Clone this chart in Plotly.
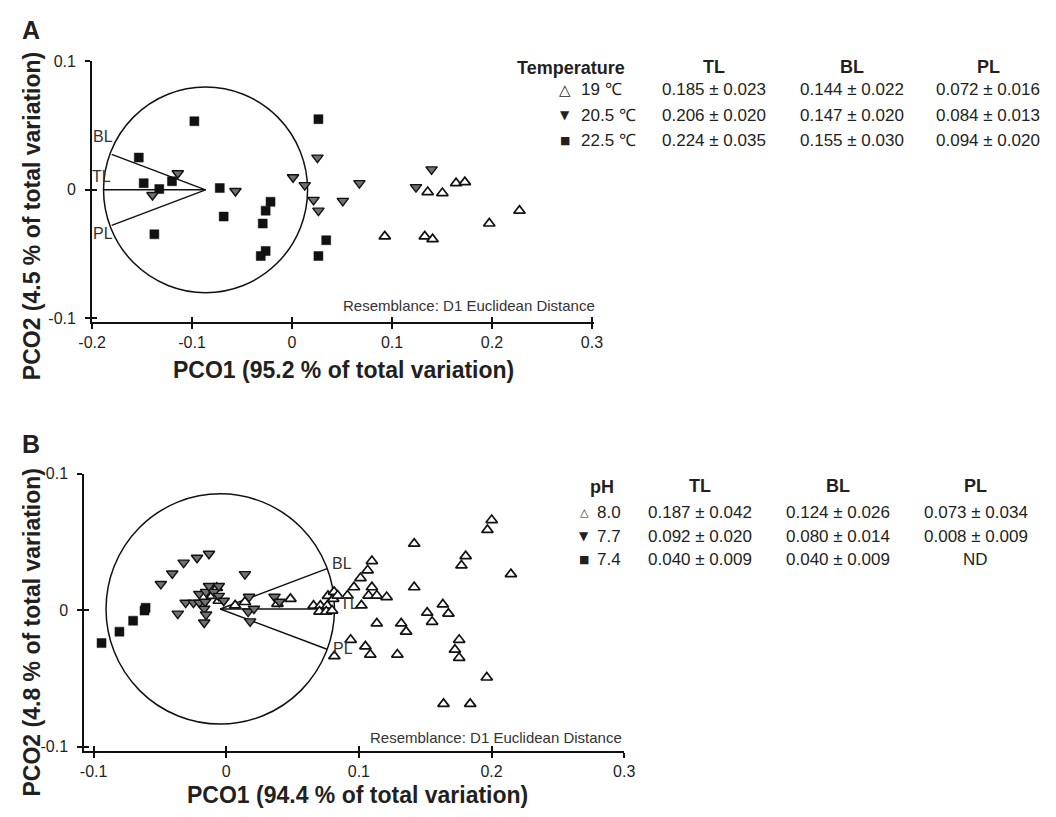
import plotly.graph_objects as go

# ---------------- DATA ----------------
# Panel A (temperature)
a_19_x = [0.1357, 0.1504, 0.1641, 0.1729, 0.0928, 0.1328, 0.1406, 0.1973, 0.2275]
a_19_y = [-0.0017, -0.0025, 0.0052, 0.0060, -0.0362, -0.0362, -0.0384, -0.0262, -0.0162]
a_205_x = [-0.1143, -0.1396, -0.0566, 0.0010, 0.0127, 0.0254, 0.0215, 0.0264, 0.0508, 0.0674, 0.1240, 0.1396]
a_205_y = [0.0129, -0.0040, -0.0009, 0.0098, 0.0037, 0.0251, -0.0078, -0.0162, -0.0086, 0.0052, 0.0021, 0.0159]
a_225_x = [-0.0977, -0.1533, -0.1201, -0.1484, -0.1328, -0.1377, -0.0723, -0.0684, -0.0215, -0.0264,
           -0.0293, -0.0264, -0.0313, 0.0264, 0.0342, 0.0264]
a_225_y = [0.0534, 0.0251, 0.0067, 0.0052, 0.0006, -0.0346, 0.0014, -0.0208, -0.0093, -0.0162,
           -0.0262, -0.0476, -0.0515, 0.0550, -0.0392, -0.0515]

# Panel B (pH)
b_80_x = [0.0067, 0.0141, 0.0386, 0.0484, 0.0658, 0.0710, 0.0762, 0.0703, 0.0754, 0.0798,
          0.0767, 0.0806, 0.0813, 0.0840, 0.0914, 0.0963, 0.1012, 0.1066, 0.1098, 0.1073,
          0.1098, 0.1135, 0.1209, 0.1019, 0.1417, 0.1417, 0.1135, 0.1319, 0.1356, 0.1515,
          0.1552, 0.1633, 0.1675, 0.0815, 0.0938, 0.1049, 0.1086, 0.1290, 0.1756, 0.1724,
          0.1756, 0.2001, 0.1969, 0.1805, 0.1773, 0.2146, 0.1964, 0.1638, 0.1839,
          -0.0071, -0.0108, -0.0056]
b_80_y = [0.0036, 0.0061, 0.0048, 0.0084, 0.0034, 0.0034, 0.0034, -0.0009, -0.0009, -0.0002,
          0.0106, 0.0084, 0.0135, 0.0108, 0.0108, 0.0169, 0.0236, 0.0293, 0.0361, 0.0108,
          0.0169, 0.0108, 0.0097, 0.0036, 0.0488, 0.0169, -0.0096, -0.0096, -0.0156, -0.0017,
          -0.0084, 0.0043, -0.0024, -0.0336, -0.0216, -0.0264, -0.0324, -0.0324, -0.0216, -0.0288,
          -0.0348, 0.0661, 0.0589, 0.0397, 0.0329, 0.0265, -0.0492, -0.0685, -0.0685,
          0.0164, 0.0106, 0.0070]
b_77_x = [-0.0493, -0.0407, -0.0321, -0.0220, -0.0130, 0.0141, -0.0365, -0.0306, -0.0247, -0.0203,
          -0.0159, -0.0203, -0.0152, -0.0093, -0.0056, -0.0019, -0.0130, -0.0056, -0.0166, -0.0152,
          -0.0166, 0.0172, 0.0165, 0.0209, 0.0180, 0.0364, 0.0401]
b_77_y = [0.0193, 0.0270, 0.0349, 0.0385, 0.0414, 0.0265, -0.0024, 0.0056, 0.0056, 0.0056,
          0.0063, 0.0120, 0.0135, 0.0135, 0.0106, 0.0070, 0.0178, 0.0178, 0.0012, -0.0031,
          -0.0089, 0.0099, -0.0009, 0.0012, -0.0081, 0.0099, 0.0063]
b_74_x = [-0.0940, -0.0805, -0.0702, -0.0608, -0.0616]
b_74_y = [-0.0240, -0.0156, -0.0076, 0.0019, -0.0002]

# Vector overlays (correlations with PCO axes)
vec_labels = ["TL", "BL", "PL"]
a_vec_x = [-1.0, -0.92, -0.92]
a_vec_y = [0.0, 0.345, -0.345]
b_vec_x = [1.0, 0.935, 0.935]
b_vec_y = [0.0, 0.35, -0.35]

# Tables
a_groups = ["19 ℃", "20.5 ℃", "22.5 ℃"]
a_TL = ["0.185 ± 0.023", "0.206 ± 0.020", "0.224 ± 0.035"]
a_BL = ["0.144 ± 0.022", "0.147 ± 0.020", "0.155 ± 0.030"]
a_PL = ["0.072 ± 0.016", "0.084 ± 0.013", "0.094 ± 0.020"]
b_groups = ["8.0", "7.7", "7.4"]
b_TL = ["0.187 ± 0.042", "0.092 ± 0.020", "0.040 ± 0.009"]
b_BL = ["0.124 ± 0.026", "0.080 ± 0.014", "0.040 ± 0.009"]
b_PL = ["0.073 ± 0.034", "0.008 ± 0.009", "ND"]
symbols_txt = ["△", "▼", "■"]

# ---------------- LAYOUT GEOMETRY ----------------
W, H = 1056, 817
FONT = "Liberation Sans, Arial, sans-serif"
TXT = "#231f20"

# panel A plot box (px)
A_X0, A_X1, A_Y0, A_Y1 = 80, 594, 54.2, 319.3
A_XR, A_YR = [-0.2, 0.302], [-0.103, 0.1]
# panel B plot box (px)
B_X0, B_X1, B_Y0, B_Y1 = 72, 625, 473.3, 755
B_XR, B_YR = [-0.107, 0.3], [-0.103, 0.1]


def dom_x(x0, x1):
    return [x0 / W, x1 / W]


def dom_y(y0, y1):
    return [1 - y1 / H, 1 - y0 / H]


fig = go.Figure()

mk_up = dict(symbol="triangle-up", size=10, color="white", line=dict(color="#111", width=1.7))
mk_dn = dict(symbol="triangle-down", size=10, color="#707070", line=dict(color="#111", width=1.4))
mk_sq = dict(symbol="square", size=9, color="#111", line=dict(color="#111", width=0.5))


def circle_and_vectors(xa, ya, cx, cy, rpx, box, xr, yr, vx, vy, lab_shift):
    x0, x1, y0, y1 = box
    rx = rpx * (xr[1] - xr[0]) / (x1 - x0)
    ry = rpx * (yr[1] - yr[0]) / (y1 - y0)
    fig.add_shape(type="circle", xref=xa, yref=ya, x0=cx - rx, x1=cx + rx, y0=cy - ry, y1=cy + ry,
                  line=dict(color="#111", width=1.5), layer="below")
    for i, lab in enumerate(vec_labels):
        ex, ey = cx + vx[i] * rx, cy + vy[i] * ry
        fig.add_trace(go.Scatter(x=[cx, ex], y=[cy, ey], mode="lines", xaxis=xa, yaxis=ya,
                                 line=dict(color="#111", width=1.5), showlegend=False, hoverinfo="skip"))
        fig.add_annotation(x=ex, y=ey, xref=xa, yref=ya, text=lab, showarrow=False,
                           xshift=lab_shift[i][0], yshift=lab_shift[i][1],
                           font=dict(family=FONT, size=16, color="#333"))


# Panel A
circle_and_vectors("x", "y", -0.0865, 0.0, 104.5, (A_X0, A_X1, A_Y0, A_Y1), A_XR, A_YR,
                   a_vec_x, a_vec_y, [(-2, 13), (-9, 18), (-9, -8)])
fig.add_trace(go.Scatter(x=a_225_x, y=a_225_y, mode="markers", marker=mk_sq, xaxis="x", yaxis="y", showlegend=False))
fig.add_trace(go.Scatter(x=a_205_x, y=a_205_y, mode="markers", marker=mk_dn, xaxis="x", yaxis="y", showlegend=False))
fig.add_trace(go.Scatter(x=a_19_x, y=a_19_y, mode="markers", marker=mk_up, xaxis="x", yaxis="y", showlegend=False))

# Panel B
circle_and_vectors("x2", "y2", -0.0045, 0.001, 117, (B_X0, B_X1, B_Y0, B_Y1), B_XR, B_YR,
                   b_vec_x, b_vec_y, [(15, 5), (15, 5), (16, 1)])
fig.add_trace(go.Scatter(x=b_74_x, y=b_74_y, mode="markers", marker=mk_sq, xaxis="x2", yaxis="y2", showlegend=False))
fig.add_trace(go.Scatter(x=b_80_x, y=b_80_y, mode="markers", marker=mk_up, xaxis="x2", yaxis="y2", showlegend=False))
fig.add_trace(go.Scatter(x=b_77_x, y=b_77_y, mode="markers", marker=mk_dn, xaxis="x2", yaxis="y2", showlegend=False))

# dummy traces for overlay (inner tick) axes
fig.add_trace(go.Scatter(x=[None], y=[None], xaxis="x3", yaxis="y3", showlegend=False, hoverinfo="skip"))
fig.add_trace(go.Scatter(x=[None], y=[None], xaxis="x4", yaxis="y4", showlegend=False, hoverinfo="skip"))

ax_common = dict(showline=True, linecolor="#111", linewidth=2, ticks="outside", ticklen=5, tickwidth=2,
                 tickcolor="#111", showgrid=False, zeroline=False,
                 tickfont=dict(family=FONT, size=16, color=TXT))
inner = dict(showline=False, ticks="inside", ticklen=5, tickwidth=2, tickcolor="#111", showgrid=False,
             zeroline=False, showticklabels=False)

a_xt = [-0.2, -0.1, 0, 0.1, 0.2, 0.3]
b_xt = [-0.1, 0, 0.1, 0.2, 0.3]
yt = [-0.1, 0, 0.1]
a_xl = ["-0.2", "-0.1", "0", "0.1", "0.2", "0.3"]
b_xl = ["-0.1", "0", "0.1", "0.2", "0.3"]
yl = ["-0.1", "0", "0.1"]

fig.update_layout(
    width=W, height=H, margin=dict(l=0, r=0, t=0, b=0),
    paper_bgcolor="white", plot_bgcolor="white", showlegend=False,
    xaxis=dict(domain=dom_x(A_X0, A_X1), range=A_XR, anchor="y", tickvals=a_xt, ticktext=a_xl, **ax_common),
    yaxis=dict(domain=dom_y(A_Y0, A_Y1), range=A_YR, anchor="x", tickvals=yt, ticktext=yl,
               ticklabelstandoff=6, **ax_common),
    xaxis2=dict(domain=dom_x(B_X0, B_X1), range=B_XR, anchor="y2", tickvals=b_xt, ticktext=b_xl, **ax_common),
    yaxis2=dict(domain=dom_y(B_Y0, B_Y1), range=B_YR, anchor="x2", tickvals=yt, ticktext=yl,
                ticklabelstandoff=6, **ax_common),
    xaxis3=dict(overlaying="x", anchor="y", range=A_XR, tickvals=a_xt, **inner),
    yaxis3=dict(overlaying="y", anchor="x", range=A_YR, tickvals=yt, **inner),
    xaxis4=dict(overlaying="x2", anchor="y2", range=B_XR, tickvals=b_xt, **inner),
    yaxis4=dict(overlaying="y2", anchor="x2", range=B_YR, tickvals=yt, **inner),
)


def ptext(x, y, text, size=17, bold=False, xanchor="center", color=TXT, angle=0, fam=FONT):
    if bold:
        text = "<b>" + text + "</b>"
    fig.add_annotation(x=x / W, y=1 - y / H, xref="paper", yref="paper", text=text, showarrow=False,
                       xanchor=xanchor, yanchor="middle", textangle=angle,
                       font=dict(family=fam, size=size, color=color))


# panel letters
ptext(17, 22, "A", size=25, bold=True)
ptext(17, 443, "B", size=25, bold=True)

# axis titles
ptext(338, 368, "PCO1 (95.2 % of total variation)", size=23, bold=True)
ptext(18, 212, "PCO2 (4.5 % of total variation)", size=23, bold=True, angle=-90)
ptext(352, 800, "PCO1 (94.4 % of total variation)", size=23, bold=True)
ptext(18, 635, "PCO2 (4.8 % of total variation)", size=23, bold=True, angle=-90)

# resemblance notes
ptext(597, 302, "Resemblance: D1 Euclidean Distance", size=15, xanchor="right", color="#333")
ptext(625, 741, "Resemblance: D1 Euclidean Distance", size=15, xanchor="right", color="#333")

# table A
ptext(628, 61, "Temperature", size=18, bold=True, xanchor="right")
a_cols = [717, 858, 998]
for cx, h in zip(a_cols, ["TL", "BL", "PL"]):
    ptext(cx, 60, h, size=18, bold=True)
a_rows = [83, 109, 135]
sym_sizes_a = [15, 12, 11]
for i, ry in enumerate(a_rows):
    ptext(564, ry, symbols_txt[i], size=sym_sizes_a[i], fam="DejaVu Sans")
    ptext(579, ry, a_groups[i], size=17, xanchor="left")
    for cx, col in zip(a_cols, [a_TL, a_BL, a_PL]):
        ptext(cx, ry, col[i], size=17)

# table B
ptext(602, 487, "pH", size=18, bold=True)
b_cols = [703, 844, 985]
for cx, h in zip(b_cols, ["TL", "BL", "PL"]):
    ptext(cx, 486, h, size=18, bold=True)
b_rows = [513, 537, 560]
sym_sizes_b = [11, 12, 11]
for i, ry in enumerate(b_rows):
    ptext(584, ry, symbols_txt[i], size=sym_sizes_b[i], fam="DejaVu Sans")
    ptext(595, ry, b_groups[i], size=17, xanchor="left")
    for cx, col in zip(b_cols, [b_TL, b_BL, b_PL]):
        ptext(cx, ry, col[i], size=17)

fig.write_html("out.html", config={"displayModeBar": False},
               post_script="document.body.style.margin='0px';document.body.style.overflow='hidden';")
